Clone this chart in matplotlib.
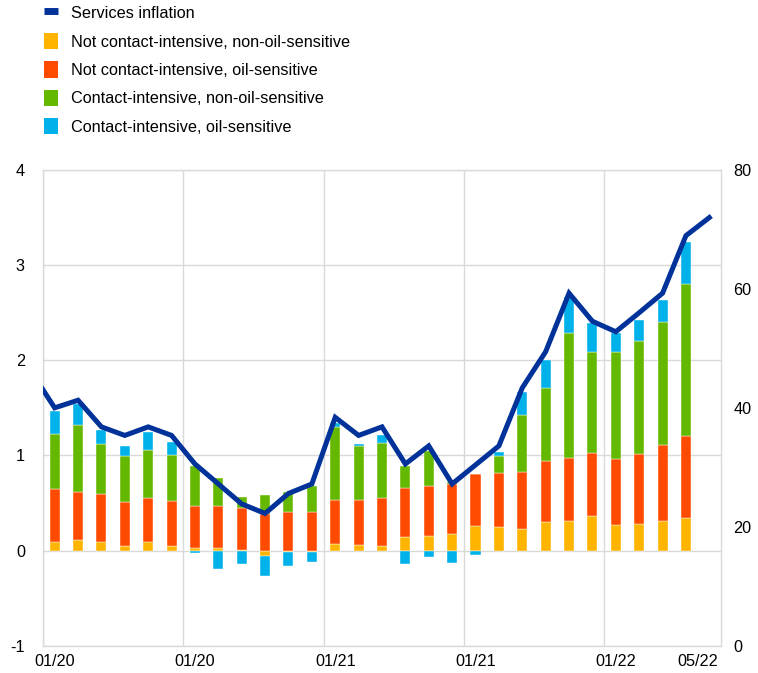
# Services inflation decomposition: contact-intensive vs oil-sensitive components
# stacked bars (left axis) + services inflation line, dummy right axis 0-80

import numpy as np
import pandas as pd
import matplotlib.pyplot as plt
from matplotlib.lines import Line2D
from matplotlib.patches import Patch

plt.rcParams['font.family'] = ['Liberation Sans', 'DejaVu Sans']

# Months: bars Jan-20 .. Apr-22, line Dec-19 .. May-22
bar_months = pd.period_range("2020-01", "2022-04", freq="M")
line_months = pd.period_range("2019-12", "2022-05", freq="M")

# Component contributions (percentage points)
not_ci_non_oil = [0.095, 0.11, 0.095, 0.045, 0.085, 0.05, 0.025, 0.03, 0.01, -0.06,
                  -0.02, -0.02, 0.065, 0.055, 0.045, 0.145, 0.15, 0.175, 0.26, 0.25,
                  0.225, 0.295, 0.315, 0.36, 0.27, 0.275, 0.315, 0.345]
not_ci_oil = [0.555, 0.51, 0.495, 0.47, 0.465, 0.47, 0.445, 0.44, 0.435, 0.385,
              0.41, 0.40, 0.465, 0.48, 0.51, 0.515, 0.53, 0.525, 0.54, 0.565,
              0.605, 0.65, 0.66, 0.67, 0.69, 0.74, 0.795, 0.86]
ci_non_oil = [0.58, 0.70, 0.53, 0.475, 0.51, 0.48, 0.42, 0.29, 0.115, 0.195,
              0.21, 0.28, 0.77, 0.565, 0.575, 0.23, 0.37, 0.02, 0.0, 0.175,
              0.59, 0.765, 1.31, 1.055, 1.125, 1.185, 1.29, 1.595]
ci_oil = [0.24, 0.22, 0.15, 0.11, 0.185, 0.14, -0.025, -0.195, -0.145, -0.21,
          -0.14, -0.10, 0.04, 0.02, 0.08, -0.14, -0.07, -0.13, -0.05, 0.045,
          0.25, 0.29, 0.385, 0.305, 0.20, 0.225, 0.23, 0.44]

services_inflation = [1.88, 1.50, 1.58, 1.30, 1.21, 1.30, 1.21, 0.91, 0.70, 0.49, 0.39,
                      0.60, 0.70, 1.40, 1.21, 1.30, 0.91, 1.10, 0.70, 0.90, 1.10,
                      1.71, 2.09, 2.705, 2.41, 2.30, 2.50, 2.705, 3.31, 3.50]

tick_labels = ["01/20", "01/20", "01/21", "01/21", "01/22", "05/22"]

series = [
    ("Not contact-intensive, non-oil-sensitive", not_ci_non_oil, "#FFB400"),
    ("Not contact-intensive, oil-sensitive", not_ci_oil, "#FF4B00"),
    ("Contact-intensive, non-oil-sensitive", ci_non_oil, "#65B800"),
    ("Contact-intensive, oil-sensitive", ci_oil, "#00B1EA"),
]
line_color = "#003299"
grid_color = "#d9d9d9"
fs = 11.7

# x positions: index 0 = Jan-20
start = bar_months[0]
xb = np.array([(m - start).n for m in bar_months])
xl = np.array([(m - start).n for m in line_months])

fig = plt.figure(figsize=(7.58, 6.73), dpi=100)
ax = fig.add_axes([0.0567, 0.0406, 0.8945, 0.7068])

pos_base = np.zeros(len(xb))
neg_base = np.zeros(len(xb))
for name, vals, col in series:
    v = np.array(vals)
    base = np.where(v >= 0, pos_base, neg_base)
    ax.bar(xb, v, bottom=base, width=0.43, color=col, edgecolor="white",
           linewidth=0.3, zorder=2)
    pos_base += np.where(v >= 0, v, 0)
    neg_base += np.where(v < 0, v, 0)

ax.plot(xl, services_inflation, color=line_color, lw=3.6, zorder=3,
        solid_joinstyle="miter")

ax.set_xlim(-0.5, 28.5)
ax.set_ylim(-1, 4)
ax.set_yticks(range(-1, 5))
ax.set_yticklabels(["-1", "0", "1", "2", "3", "4"])

# labels under the bars, grid every six months between bars
ax.set_xticks([0, 6, 12, 18, 24, 27.5])
ax.set_xticklabels(tick_labels)
ax.set_xticks(np.arange(-0.5, 28.5, 6), minor=True)
ax.grid(axis="x", which="minor", color=grid_color, lw=1, zorder=0)
ax.grid(axis="y", which="major", color=grid_color, lw=1, zorder=0)
ax.tick_params(axis="both", which="both", length=0, labelsize=fs, colors="black")
ax.tick_params(axis="y", pad=13)
ax.tick_params(axis="x", pad=6)
for s in ax.spines.values():
    s.set_color(grid_color)
    s.set_linewidth(1)

ax2 = ax.twinx()
ax2.set_ylim(0, 80)
ax2.set_yticks(range(0, 81, 20))
ax2.tick_params(axis="y", length=0, labelsize=fs, pad=9)
for s in ax2.spines.values():
    s.set_visible(False)

handles = [Line2D([0], [0], color=line_color, lw=5, solid_capstyle="butt")]
labels = ["Services inflation"]
for name, vals, col in series:
    handles.append(Patch(facecolor=col, edgecolor="none"))
    labels.append(name)

fig.legend(handles, labels, loc="upper left", bbox_to_anchor=(0.05, 1.003),
           frameon=False, fontsize=fs, handlelength=0.86, handleheight=1.17,
           handletextpad=0.8, labelspacing=0.72, borderaxespad=0)

fig.savefig("out.png", dpi=100)
